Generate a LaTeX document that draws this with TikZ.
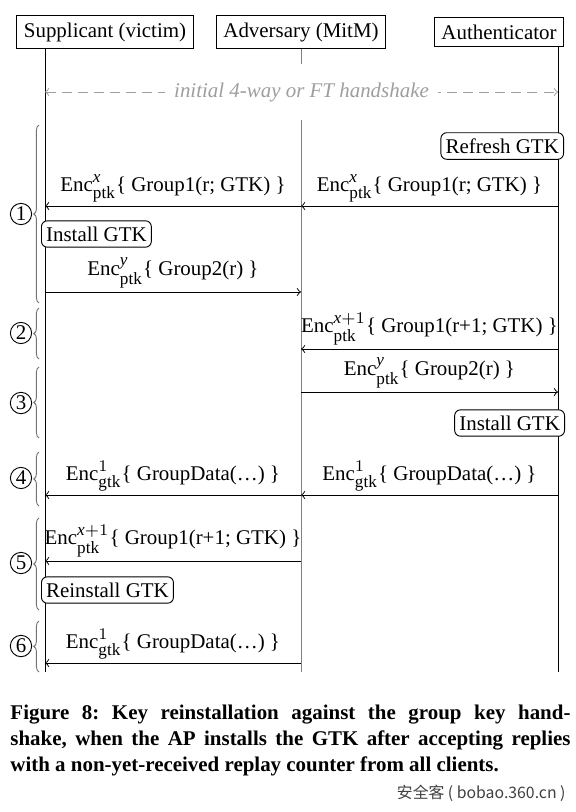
\documentclass[tikz,border=0pt]{standalone}
\usepackage{fontspec}
\setmainfont{Liberation Serif}
\newfontfamily\cjkfont{Noto Sans CJK SC}
\usepackage{tikz}
\usetikzlibrary{arrows, positioning, decorations.pathreplacing}
\DeclareMathSizes{9}{9}{7.4}{5.6}
\definecolor{hsgray}{gray}{0.62}
\definecolor{bracegray}{gray}{0.45}
\tikzstyle{party} = [rectangle, draw=black, fill=white, inner xsep=3pt, inner ysep=3pt]
\tikzstyle{action} = [rectangle, rounded corners=2.5pt, draw=black, fill=white, inner xsep=2pt, inner ysep=2.5pt]
\tikzstyle{lifeline} = [black]
\tikzstyle{arrow} = [->,>=to]
\tikzstyle{msg} = [above, inner sep=1.5pt]
\tikzstyle{handshake} = [<->,>=to, hsgray, dash pattern=on 4.3pt off 2.6pt]
\tikzstyle{phase} = [decorate, decoration={brace, amplitude=2.2pt}, bracegray]
\tikzstyle{phasenum} = [circle, draw=black, inner sep=0.6pt, minimum size=7.5pt]
\newcommand{\encp}[1]{Enc$^{#1}_{\mathrm{ptk}}$}
\newcommand{\encg}[1]{Enc$^{#1}_{\mathrm{gtk}}$}

\begin{document}
\begin{tikzpicture}[x=0.43pt, y=-0.43pt, font=\fontsize{9}{10.5}\selectfont]
\useasboundingbox (0,0) rectangle (576,812);

% Parties
\node (supp) [party] at (105,32) {Supplicant (victim)};
\node (adv) [party] at (301,32) {Adversary (MitM)};
\node (auth) [party] at (499,32) {Authenticator};

% Lifelines
\coordinate (suppend) at (45,672);
\coordinate (advend) at (301,672);
\coordinate (authend) at (558,672);
\draw [lifeline] (supp.south -| suppend) -- (suppend);
\draw [lifeline, gray] (adv.south) -- (advend);
\draw [lifeline] (auth.south -| authend) -- (authend);

% Message rows
\foreach \name/\y in {hs/92, r1/206, r2/292, r3/349, r4/392, r5/495, r6/561, r7/663}
  \coordinate (\name) at (0,\y);

% Initial handshake
\draw [handshake] (suppend |- hs) -- node [fill=white, text=hsgray, inner xsep=4pt, inner ysep=8pt] {\textit{initial 4-way or FT handshake}} (authend |- hs);

% Local actions
\node (refresh) [action, anchor=east] at (564,146) {Refresh GTK};
\node (install1) [action, anchor=west] at (41,234) {Install GTK};
\node (install2) [action, anchor=east] at (565,423) {Install GTK};
\node (reinstall) [action, anchor=west] at (41,590) {Reinstall GTK};

% Messages
\draw [arrow] (authend |- r1) -- node [msg] {\encp{\mathit{x}}\{ Group1(r; GTK) \}} (advend |- r1);
\draw [arrow] (advend |- r1) -- node [msg] {\encp{\mathit{x}}\{ Group1(r; GTK) \}} (suppend |- r1);
\draw [arrow] (suppend |- r2) -- node [msg] {\encp{\mathit{y}}\{ Group2(r) \}} (advend |- r2);
\draw [arrow] (authend |- r3) -- node [msg] {\encp{\mathit{x}+1}\{ Group1(r+1; GTK) \}} (advend |- r3);
\draw [arrow] (advend |- r4) -- node [msg] {\encp{\mathit{y}}\{ Group2(r) \}} (authend |- r4);
\draw [arrow] (authend |- r5) -- node [msg] {\encg{1}\{ GroupData(\dots) \}} (advend |- r5);
\draw [arrow] (advend |- r5) -- node [msg] {\encg{1}\{ GroupData(\dots) \}} (suppend |- r5);
\draw [arrow] (advend |- r6) -- node [msg] {\encp{\mathit{x}+1}\{ Group1(r+1; GTK) \}} (suppend |- r6);
\draw [arrow] (advend |- r7) -- node [msg] {\encg{1}\{ GroupData(\dots) \}} (suppend |- r7);

% Attack phases
\foreach \ya/\yb/\yc/\n in {125/303/214/1, 308/359/333/2, 367/438/403/3, 452/506/478/4, 518/610/563/5, 621/672/646/6} {
  \draw [phase] (39,\yb) -- (39,\ya);
  \node (num\n) [phasenum] at (21,\yc) {\n};
}

% Caption
\node (caption) [anchor=north west, inner sep=0pt, text width=240.8pt, align=justify, font=\fontsize{9}{11}\selectfont\bfseries\frenchspacing] at (10,705)
  {Figure 8: Key reinstallation against the group key hand-\linebreak shake, when the AP installs the GTK after accepting replies\linebreak with a non-yet-received replay counter from all clients.};
\node (mark) [anchor=east, inner sep=0pt, text=black!75, font=\cjkfont\fontsize{6.8}{8}\selectfont] at (566,793) {安全客 ( bobao.360.cn )};

\end{tikzpicture}
\end{document}
